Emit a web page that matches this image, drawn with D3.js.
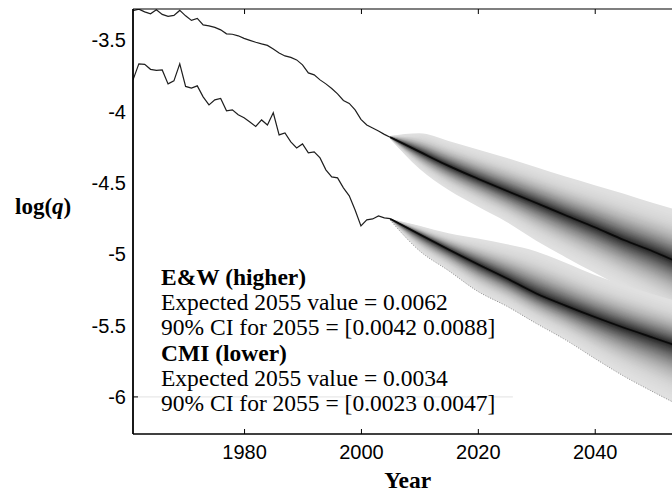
<!DOCTYPE html>
<html>
<head>
<meta charset="utf-8">
<script src="https://cdn.jsdelivr.net/npm/d3@7"></script>
<style>
  html, body { margin: 0; padding: 0; background: #fff; }
  svg { display: block; }
</style>
</head>
<body>
<svg id="chart" width="672" height="494"></svg>
<script>
// ---------------- data ----------------
const histYears = [1961,1962,1963,1964,1965,1966,1967,1968,1969,1970,
  1971,1972,1973,1974,1975,1976,1977,1978,1979,1980,
  1981,1982,1983,1984,1985,1986,1987,1988,1989,1990,
  1991,1992,1993,1994,1995,1996,1997,1998,1999,2000,
  2001,2002,2003,2004,2005];

// E&W (higher) observed log(q)
const ewHist = [-3.291,-3.281,-3.300,-3.314,-3.286,-3.318,-3.332,-3.325,-3.290,-3.328,
  -3.360,-3.346,-3.391,-3.398,-3.409,-3.426,-3.454,-3.457,-3.468,-3.486,
  -3.500,-3.513,-3.525,-3.535,-3.560,-3.588,-3.609,-3.619,-3.637,-3.672,
  -3.728,-3.742,-3.777,-3.805,-3.837,-3.875,-3.921,-3.942,-3.987,-4.054,
  -4.093,-4.114,-4.135,-4.159,-4.179];

// CMI (lower) observed log(q)
const cmiHist = [-3.777,-3.665,-3.668,-3.703,-3.710,-3.707,-3.805,-3.784,-3.665,-3.823,
  -3.835,-3.819,-3.896,-3.952,-3.917,-3.907,-3.994,-3.987,-4.022,-4.043,
  -4.072,-4.104,-4.058,-4.093,-4.008,-4.163,-4.149,-4.212,-4.254,-4.226,
  -4.289,-4.282,-4.324,-4.408,-4.457,-4.464,-4.534,-4.590,-4.689,-4.801,
  -4.759,-4.752,-4.731,-4.745,-4.750];

// projection fans (median and 90% limits)
const fanYears  = [2005,2010,2015,2020,2025,2030,2035,2040,2045,2050,2055];
const ewMedian  = [-4.179,-4.280,-4.380,-4.470,-4.556,-4.640,-4.726,-4.810,-4.900,-4.980,-5.070];
const ewHi      = [-4.170,-4.151,-4.205,-4.265,-4.325,-4.390,-4.455,-4.515,-4.575,-4.640,-4.700];
const ewLo      = [-4.190,-4.400,-4.550,-4.665,-4.775,-4.905,-5.020,-5.130,-5.240,-5.350,-5.460];
const cmiMedian = [-4.750,-4.860,-4.967,-5.070,-5.170,-5.275,-5.360,-5.440,-5.515,-5.585,-5.655];
const cmiHi     = [-4.750,-4.800,-4.853,-4.890,-4.930,-4.980,-5.060,-5.145,-5.215,-5.280,-5.340];
const cmiLo     = [-4.760,-4.975,-5.115,-5.260,-5.365,-5.485,-5.600,-5.730,-5.855,-5.965,-6.070];

const xTicks = [1980, 2000, 2020, 2040];
const yTicks = [-6, -5.5, -5, -4.5, -4, -3.5];
const yLabel = "log(";
const yLabelItalic = "q";
const xLabel = "Year";
const notes = [
  {text: "E&W (higher)", bold: true},
  {text: "Expected 2055 value = 0.0062", bold: false},
  {text: "90% CI for 2055 = [0.0042 0.0088]", bold: false},
  {text: "CMI (lower)", bold: true},
  {text: "Expected 2055 value = 0.0034", bold: false},
  {text: "90% CI for 2055 = [0.0023 0.0047]", bold: false}
];

// ---------------- layout ----------------
const L = 133, R = 682.4, T = 9, B = 434;
const svg = d3.select("#chart");
const x = d3.scaleLinear().domain([1961, 2055]).range([L, R]);
const y = d3.scaleLinear().domain([-6.26, -3.28]).range([B, T]);

svg.append("defs").append("clipPath").attr("id", "plotclip")
  .append("rect").attr("x", L).attr("y", T).attr("width", R - L).attr("height", B - T);

const plot = svg.append("g").attr("clip-path", "url(#plotclip)");

// faint line at -6
plot.append("line")
  .attr("x1", x(1961)).attr("x2", x(2026))
  .attr("y1", y(-6)).attr("y2", y(-6))
  .attr("stroke", "#e2e2e2").attr("stroke-width", 1);

// ---------------- fans ----------------
function zq(q) { return 4.91 * (Math.pow(q, 0.14) - Math.pow(1 - q, 0.14)); }
const z95 = zq(0.95);
const NB = 40;
const shade = d3.interpolateRgb("#e0e0e0", "#262626");

function drawFan(med, lo, hi, dottedLower) {
  const g = plot.append("g");
  const pts = fanYears.map((yr, i) => ({yr, m: med[i], lo: lo[i], hi: hi[i]}));
  for (let i = 0; i < NB; i++) {
    const tail = 0.05 + 0.45 * i / NB;
    const f = zq(1 - tail) / z95;
    const area = d3.area()
      .curve(d3.curveMonotoneX)
      .x(d => x(d.yr))
      .y0(d => y(d.m + f * (d.lo - d.m)))
      .y1(d => y(d.m + f * (d.hi - d.m)));
    g.append("path").datum(pts)
      .attr("d", area)
      .attr("fill", shade(Math.pow(i / (NB - 1), 1.45)))
      .attr("stroke", "none");
  }
  if (dottedLower) {
    g.append("path").datum(pts)
      .attr("d", d3.line().curve(d3.curveMonotoneX).x(d => x(d.yr)).y(d => y(d.lo)))
      .attr("fill", "none").attr("stroke", "#666").attr("stroke-width", 0.7)
      .attr("stroke-dasharray", "1,1.6");
  }
  g.append("path").datum(pts)
    .attr("d", d3.line().curve(d3.curveMonotoneX).x(d => x(d.yr)).y(d => y(d.m)))
    .attr("fill", "none").attr("stroke", "#0a0a0a").attr("stroke-width", 1.7);
}
drawFan(ewMedian, ewLo, ewHi, false);
drawFan(cmiMedian, cmiLo, cmiHi, true);

// ---------------- observed lines ----------------
const histLine = d3.line().x((d, i) => x(histYears[i])).y(d => y(d));
plot.append("path").datum(ewHist).attr("d", histLine)
  .attr("fill", "none").attr("stroke", "#1e1e1e").attr("stroke-width", 1.2);
plot.append("path").datum(cmiHist).attr("d", histLine)
  .attr("fill", "none").attr("stroke", "#1e1e1e").attr("stroke-width", 1.2);

// ---------------- axes ----------------
const frame = svg.append("g");
frame.append("line").attr("x1", L).attr("x2", R).attr("y1", T).attr("y2", T)
  .attr("stroke", "#000").attr("stroke-width", 1.2);
frame.append("line").attr("x1", L).attr("x2", R).attr("y1", B).attr("y2", B)
  .attr("stroke", "#000").attr("stroke-width", 1.5);
frame.append("line").attr("x1", L).attr("x2", L).attr("y1", T).attr("y2", B)
  .attr("stroke", "#000").attr("stroke-width", 1.8);
// short tick at -6
frame.append("line").attr("x1", L).attr("x2", L + 5).attr("y1", y(-6)).attr("y2", y(-6))
  .attr("stroke", "#000").attr("stroke-width", 1);

const xAxis = svg.append("g").attr("transform", `translate(0,${B})`)
  .call(d3.axisBottom(x).tickValues(xTicks).tickSizeInner(-5).tickSizeOuter(0)
    .tickPadding(11).tickFormat(d3.format("d")));
xAxis.select(".domain").remove();
xAxis.selectAll("line").attr("stroke", "#000");
xAxis.selectAll("text").attr("font-family", "'Liberation Sans', Arial, sans-serif")
  .attr("font-size", 20).attr("fill", "#000");

const xTop = svg.append("g").attr("transform", `translate(0,${T})`)
  .call(d3.axisTop(x).tickValues(xTicks).tickSizeInner(-5).tickSizeOuter(0).tickFormat(""));
xTop.select(".domain").remove();
xTop.selectAll("line").attr("stroke", "#000");

const yAxis = svg.append("g").attr("transform", `translate(${L},0)`)
  .call(d3.axisLeft(y).tickValues(yTicks).tickSize(0).tickPadding(7)
    .tickFormat(d => String(d)));
yAxis.select(".domain").remove();
yAxis.selectAll("text").attr("font-family", "'Liberation Sans', Arial, sans-serif")
  .attr("font-size", 20).attr("fill", "#000");

// axis titles
const yt = svg.append("text").attr("x", 15).attr("y", 214)
  .attr("font-family", "'Liberation Serif', 'Times New Roman', serif")
  .attr("font-size", 23).attr("font-weight", "bold").attr("fill", "#000");
yt.append("tspan").text(yLabel);
yt.append("tspan").attr("font-style", "italic").text(yLabelItalic);
yt.append("tspan").text(")");

svg.append("text").attr("x", (L + R) / 2).attr("y", 488)
  .attr("text-anchor", "middle")
  .attr("font-family", "'Liberation Serif', 'Times New Roman', serif")
  .attr("font-size", 23.5).attr("font-weight", "bold").attr("fill", "#000")
  .text(xLabel);

// annotation
const noteG = svg.append("g");
notes.forEach((n, i) => {
  noteG.append("text")
    .attr("x", 161).attr("y", 285 + i * 25.2)
    .attr("font-family", "'Liberation Serif', 'Times New Roman', serif")
    .attr("font-size", 23.5)
    .attr("font-weight", n.bold ? "bold" : "normal")
    .attr("fill", "#000")
    .text(n.text);
});
</script>
</body>
</html>
